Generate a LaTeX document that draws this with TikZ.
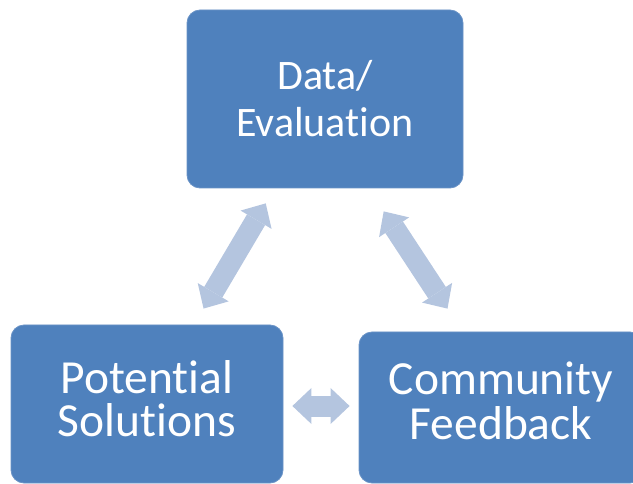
\documentclass[tikz,border=0pt]{standalone}
\usepackage{fontspec}
\setmainfont{Carlito}[RawFeature={-liga,-clig,-calt,-dlig}]
\usetikzlibrary{arrows.meta,positioning}
\definecolor{boxblue}{HTML}{4F81BD}
\definecolor{boxline}{HTML}{6A93C6}
\definecolor{linkblue}{HTML}{B4C5DF}

\begin{document}
\begin{tikzpicture}[x=1pt, y=-1pt,
    block/.style={rectangle, rounded corners=13pt, fill=boxblue, draw=boxline, line width=0.8pt,
                  text=white, align=center, inner sep=0pt},
    link/.style={draw=linkblue, line width=21pt, {Triangle[width=36pt, length=19pt, line width=0pt]}-{Triangle[width=36pt, length=19pt, line width=0pt]}}]
    \clip (0,0) rectangle (633,484);
    \useasboundingbox (0,0) rectangle (633,484);

    % Boxes
    \node [block, minimum width=276pt, minimum height=178pt, font=\fontsize{42}{47}\selectfont]
        (data) at (325,99) {Data/\\Evaluation};
    \node [block, minimum width=272pt, minimum height=158pt, text depth=10pt, font=\fontsize{47.5}{43}\selectfont]
        (pot) at (147,404) {Potential\\Solutions};
    \node [block, minimum width=284pt, minimum height=151pt, text depth=13pt, font=\fontsize{47.5}{45}\selectfont]
        (comm) at (501,407.5) {Community\\Feedback};

    % Double arrows
    \draw [link, shorten <=17.4pt, shorten >=18.6pt] ([xshift=88pt]data.south west) -- ([xshift=183.5pt]pot.north west);
    \draw [link, shorten <=27.5pt, shorten >=27.5pt] ([xshift=182pt]data.south west) -- ([xshift=104pt]comm.north west);
    \draw [link, shorten <=9pt, shorten >=9pt] ([yshift=-2pt]pot.east) -- ([yshift=-2pt]pot.east -| comm.west);
\end{tikzpicture}
\end{document}
